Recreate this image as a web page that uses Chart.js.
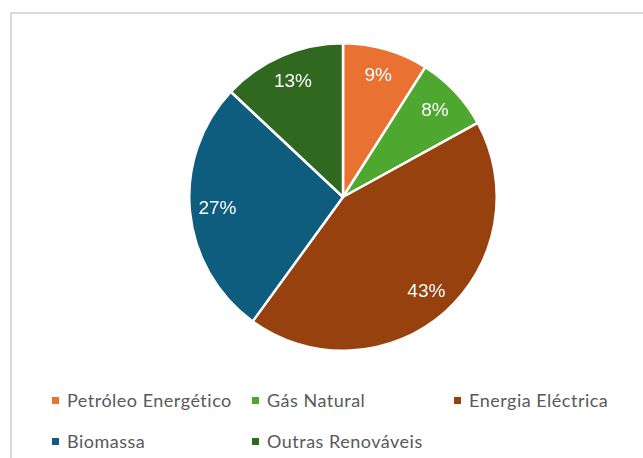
<!DOCTYPE html>
<html lang="pt">
<head>
<meta charset="utf-8">
<script src="https://cdn.jsdelivr.net/npm/chart.js@4"></script>
<style>
    html, body { margin: 0; padding: 0; background: #ffffff; }
    body { width: 643px; height: 458px; position: relative; overflow: hidden; }
    .frame {
        position: absolute; left: 10px; top: 12px;
        width: 700px; height: 520px;
        border: 2px solid #d9d9d9; box-sizing: border-box;
    }
    .pie-box { position: absolute; left: 188px; top: 42px; width: 310px; height: 310px; }
    .legend { position: absolute; left: 0; top: 0; }
    .legend-item {
        position: absolute; display: flex; align-items: center;
        font-family: Lato, "Open Sans", sans-serif; font-size: 18px; color: #595959;
        letter-spacing: 0.5px; white-space: nowrap;
    }
    .legend-item span.box { width: 7px; height: 7px; margin-right: 8px; }
</style>
</head>
<body>
<div class="frame"></div>
<div class="pie-box"><canvas id="pie"></canvas></div>
<div class="legend" id="legend"></div>

<script>
// fontes de energia (%)
const categorias = [
    "Petróleo Energético",
    "Gás Natural",
    "Energia Eléctrica",
    "Biomassa",
    "Outras Renováveis",
];
const valores = [9, 8, 43, 27, 13];
const cores = ["#e97132", "#4ea72e", "#97410f", "#0e5c7e", "#2f681e"];

// rótulos de percentagem dentro de cada fatia
const rotulosPercentagem = {
    id: "rotulosPercentagem",
    afterDatasetsDraw(chart) {
        const ctx = chart.ctx;
        const meta = chart.getDatasetMeta(0);
        const total = valores.reduce((a, b) => a + b, 0);
        ctx.save();
        ctx.font = "19px 'Liberation Sans', Arial, sans-serif";
        ctx.fillStyle = "#ffffff";
        ctx.textAlign = "center";
        ctx.textBaseline = "middle";
        meta.data.forEach((arc, i) => {
            const p = arc.getProps(["x", "y", "startAngle", "endAngle", "outerRadius"], true);
            const meio = (p.startAngle + p.endAngle) / 2;
            const r = p.outerRadius * 0.82;
            const txt = Math.round(valores[i] / total * 100) + "%";
            ctx.fillText(txt, p.x + Math.cos(meio) * r, p.y + Math.sin(meio) * r);
        });
        ctx.restore();
    },
};

function main() {
    new Chart(document.getElementById("pie"), {
        type: "pie",
        data: {
            labels: categorias,
            datasets: [
                {
                    data: valores,
                    backgroundColor: cores,
                    borderColor: "#ffffff",
                    borderWidth: 2.5,
                },
            ],
        },
        options: {
            responsive: true,
            maintainAspectRatio: false,
            animation: false,
            layout: { padding: 0 },
            plugins: {
                legend: { display: false },   // legenda feita em HTML, em grelha
                tooltip: { enabled: false },
            },
        },
        plugins: [rotulosPercentagem],
    });

    // legenda em 3 colunas
    const legenda = document.getElementById("legend");
    const colX = [52, 252, 454];
    const linhaY = [389, 430];
    categorias.forEach((nome, i) => {
        const item = document.createElement("div");
        item.className = "legend-item";
        item.style.left = colX[i % 3] + "px";
        item.style.top = linhaY[Math.floor(i / 3)] + "px";
        const caixa = document.createElement("span");
        caixa.className = "box";
        caixa.style.background = cores[i];
        item.appendChild(caixa);
        item.appendChild(document.createTextNode(nome));
        legenda.appendChild(item);
    });
}

document.addEventListener("DOMContentLoaded", main);
</script>
</body>
</html>
